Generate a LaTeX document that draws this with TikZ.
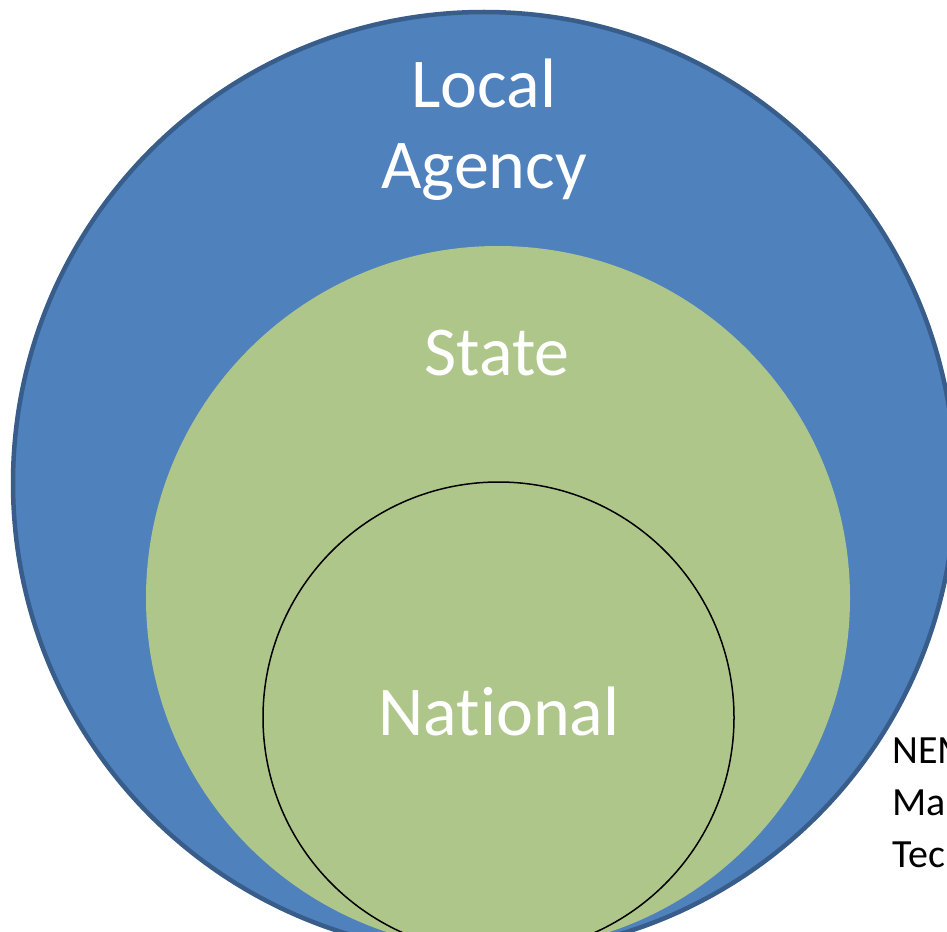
\documentclass[tikz,border=0pt]{standalone}
\usepackage{fontspec}
\setmainfont{Carlito}[Ligatures=NoCommon]
\definecolor{blueFill}{RGB}{79,129,189}
\definecolor{blueEdge}{RGB}{56,93,138}
\definecolor{greenFill}{RGB}{175,198,138}
\begin{document}
\begin{tikzpicture}[x=1pt,y=-1pt,
  bigtext/.style={text=white,font=\fontsize{70}{81}\selectfont,align=center,inner sep=0pt,anchor=base},
  sidetext/.style={text=black,font=\fontsize{40}{52}\selectfont,align=left,inner sep=0pt,anchor=base west}]
\useasboundingbox (0,0) rectangle (947,931);
\clip (0,0) rectangle (947,931);
\fill[white] (0,0) rectangle (947,931);
\filldraw[fill=blueFill,draw=blueEdge,line width=4.5pt] (484,483) circle[radius=471];
\fill[greenFill] (498,598) circle[radius=352];
\draw[black,line width=1.5pt] (498.5,717.5) circle[radius=235.5];
\node[bigtext] (local) at (484,188) {Local\\Agency};
\node[bigtext] (state) at (497,375) {State};
\node[bigtext] (national) at (499,735) {National};
\node[sidetext] (note) at (892,867) {NEM\\Ma\\Tec};
\end{tikzpicture}
\end{document}
